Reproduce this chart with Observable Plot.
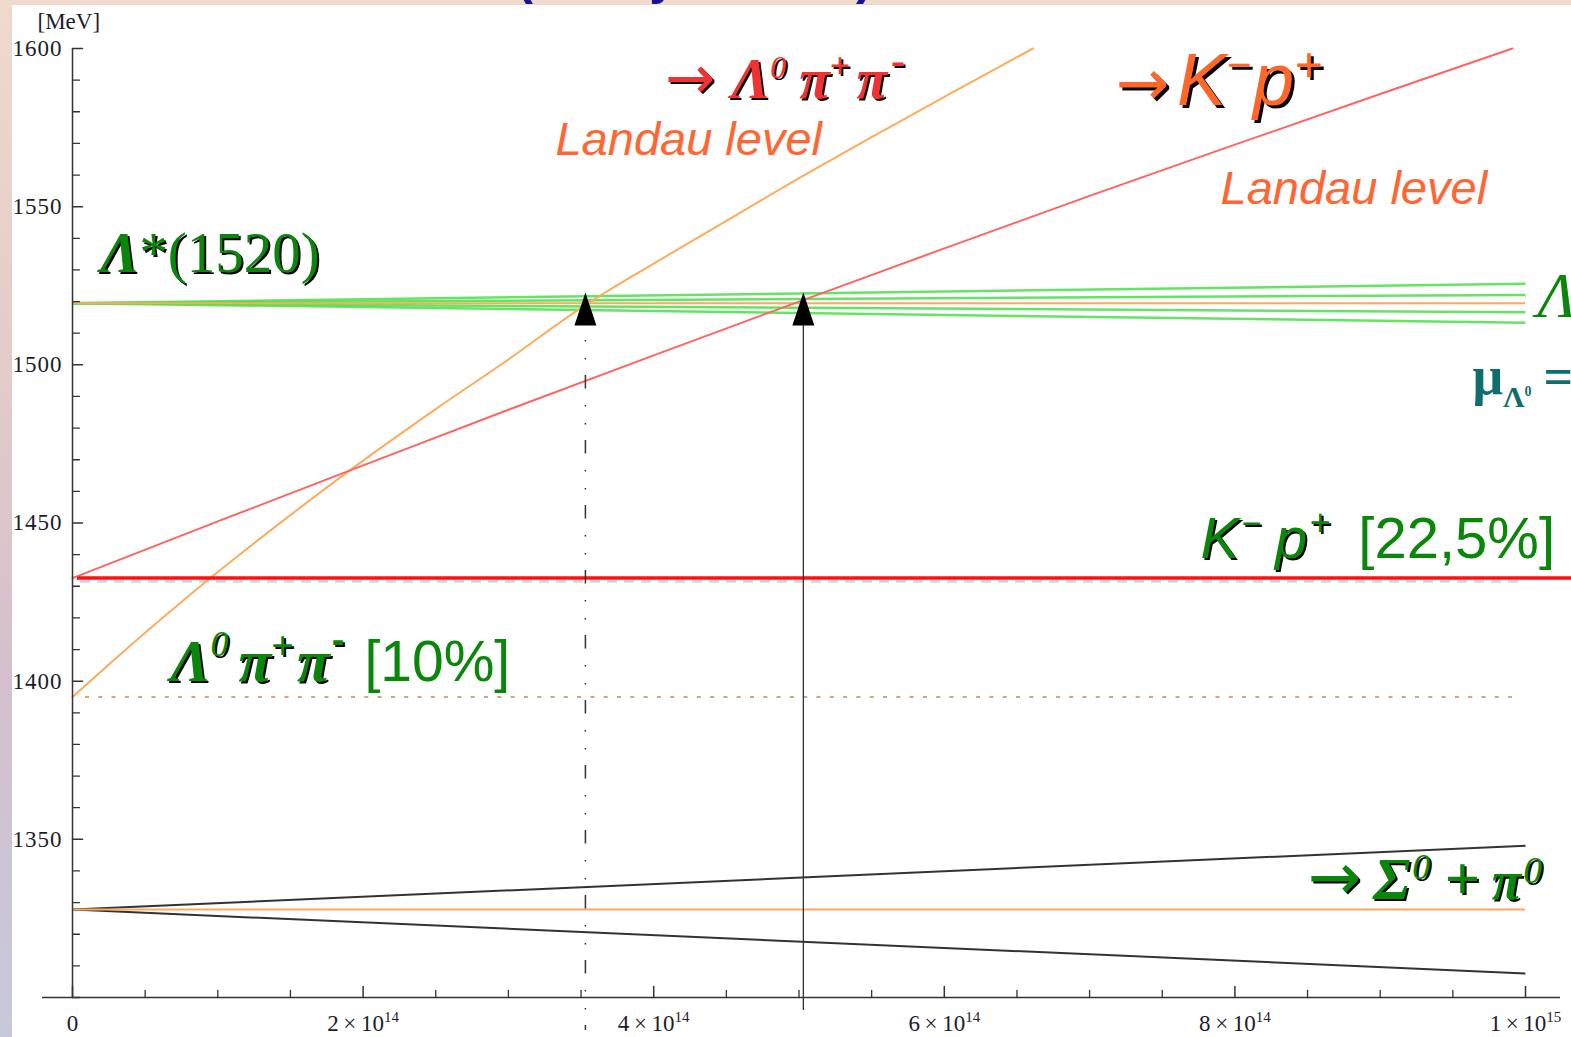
<!DOCTYPE html>
<html>
<head>
<meta charset="utf-8">
<script src="https://cdn.jsdelivr.net/npm/d3@7"></script>
<script src="https://cdn.jsdelivr.net/npm/@observablehq/plot@0.6"></script>
<style>
  html, body { margin: 0; padding: 0; }
  body {
    width: 1571px; height: 1037px; overflow: hidden; position: relative;
    background: linear-gradient(180deg, #efdacd 0%, #e2cccb 35%, #d4c0cc 65%, #c7c9db 100%);
  }
  #chart { position: absolute; left: 12px; top: 5px; background: #fff; }
  #title {
    position: absolute; left: 516px; top: -50px; z-index: 2;
    font: bold 51px "Liberation Sans", Arial, sans-serif; line-height: 1;
    color: #15158c; white-space: nowrap;
  }
</style>
</head>
<body>
<div id="title">(decay in field)</div>
<div id="chart"></div>
<script>
// ---- data (energies in MeV, field in the x unit of the axis) ----
const FIELD_MAX = 1e15;

// Λ*(1520) level and its field-split branches at the right end
const lambdaStarMass = 1519.5;
const lambdaStarBranchesEnd = [1525.6, 1522.1, 1516.6, 1513.3];

// Λ0 π+ π- channel: threshold and lowest Landau level
const lppThreshold = 1395;
const lppField  = [0, 0.5e14, 1e14, 1.5e14, 2e14, 2.5e14, 3e14, 3.5e14, 4e14, 4.5e14, 5e14, 5.5e14, 6e14, 6.61e14];
const lppEnergy = [1395, 1415.3, 1434.5, 1452.5, 1469.7, 1486, 1501.7, 1518, 1532, 1545.5, 1559, 1572, 1584.7, 1600];

// K- p+ channel: threshold and lowest Landau level
const kpThreshold = 1432.6;
const kpField  = [0, 1e14, 2e14, 3e14, 4e14, 5e14, 6e14, 7e14, 8e14, 9e14, 9.91e14];
const kpEnergy = [1432.6, 1450.5, 1468.2, 1485.8, 1503, 1520, 1536.8, 1553.4, 1569.6, 1585.6, 1600];

// Σ0 + π0 channel
const sigmaPiMass = 1327.8;
const sigmaPiBranchesEnd = [1348, 1307.6];

// crossing markers (field where each Landau level meets Λ*)
const crossingField = [3.53e14, 5.03e14];
const crossingStyle = ["dashdot", "solid"];
const markerBase = 1512.4;
const markerLineEnd = [1289.6, 1295.9];

// axis ticks
const xMajorTicks = [0, 2e14, 4e14, 6e14, 8e14, 1e15];
const xMinorTicks = d3.range(0, 21).map(i => i * 0.5e14).filter(v => !xMajorTicks.includes(v));
const yMajorTicks = [1350, 1400, 1450, 1500, 1550, 1600];
const yMinorTicks = d3.range(1300, 1601, 10).filter(v => !yMajorTicks.includes(v));

// ---- fonts and rich labels ----
const SERIF = '"Liberation Serif","Times New Roman",serif';
const SANS = '"Liberation Sans",Arial,sans-serif';
const ARROW = '"DejaVu Sans",sans-serif';
const fonts = {
  serifBoldItalic: {family: SERIF, style: "italic", weight: "bold"},
  serifItalic: {family: SERIF, style: "italic", weight: "normal"},
  serif: {family: SERIF, style: "normal", weight: "normal"},
  serifBold: {family: SERIF, style: "normal", weight: "bold"},
  sansItalic: {family: SANS, style: "italic", weight: "normal"},
  sans: {family: SANS, style: "normal", weight: "normal"},
  sansBold: {family: SANS, style: "normal", weight: "bold"},
  arrow: {family: ARROW, style: "normal", weight: "normal"}
};
const GREEN = "#0a860a";
const ORANGE_TXT = "#ff6633";

const labels = [
  {x: 1.93e13, y: 1529.2, color: GREEN, shadow: 2, segs: [
    {t: "Λ", f: "serifBoldItalic", s: 58},
    {t: "*(1520)", f: "serif", s: 57}]},
  {x: 4.08e14, y: 1584.5, color: "#f03232", shadow: 2, segs: [
    {t: "→", f: "arrow", s: 60},
    {t: "Λ", f: "serifBoldItalic", s: 58, dx: 16},
    {t: "0", f: "serifItalic", s: 32, up: 20},
    {t: "π", f: "serifBoldItalic", s: 56, dx: 13},
    {t: "+", f: "serifBold", s: 36, up: 20},
    {t: "π", f: "serifBoldItalic", s: 56, dx: 6},
    {t: "-", f: "serifBold", s: 42, up: 24, dx: 4}]},
  {x: 3.324e14, y: 1566.2, color: ORANGE_TXT, segs: [
    {t: "Landau level", f: "sansItalic", s: 47}]},
  {x: 7.178e14, y: 1582, color: "#ff6628", shadow: 3, segs: [
    {t: "→", f: "arrow", s: 64},
    {t: "K", f: "sansItalic", s: 74, dx: 8},
    {t: "−", f: "sansItalic", s: 42, up: 26},
    {t: "p", f: "sansItalic", s: 74, dx: 2},
    {t: "+", f: "sansItalic", s: 48, up: 24}]},
  {x: 7.901e14, y: 1550.7, color: ORANGE_TXT, segs: [
    {t: "Landau level ", f: "sansItalic", s: 47}]},
  {x: 1.00826e15, y: 1515, color: GREEN, segs: [
    {t: "Λ", f: "serifItalic", s: 64}]},
  {x: 9.635e14, y: 1490.9, color: "#0e6e6e", segs: [
    {t: "μ", f: "serifBold", s: 54},
    {t: "Λ", f: "serifBold", s: 30, up: -13},
    {t: "0", f: "serifBold", s: 14, up: -2},
    {t: "=", f: "serifBold", s: 52, dx: 12}]},
  {x: 7.763e14, y: 1438.8, color: GREEN, shadow: 2, segs: [
    {t: "K", f: "sansItalic", s: 58},
    {t: "−", f: "sansItalic", s: 34, up: 23, dx: 2},
    {t: "p", f: "sansItalic", s: 58, dx: 14},
    {t: "+", f: "sansItalic", s: 36, up: 23, dx: 2},
    {t: "[22,5%]", f: "sans", s: 58, dx: 28, shadow: false}]},
  {x: 6.74e13, y: 1400.2, color: GREEN, shadow: 2, segs: [
    {t: "Λ", f: "serifBoldItalic", s: 60},
    {t: "0", f: "serifItalic", s: 36, up: 25},
    {t: "π", f: "serifBoldItalic", s: 60, dx: 10},
    {t: "+", f: "serifBold", s: 40, up: 22},
    {t: "π", f: "serifBoldItalic", s: 60, dx: 3},
    {t: "-", f: "sansBold", s: 38, up: 28, dx: 2},
    {t: "[10%]", f: "sans", s: 57, dx: 20, shadow: false}]},
  {x: 8.5e14, y: 1331, color: GREEN, shadow: 2, segs: [
    {t: "→", f: "arrow", s: 64},
    {t: "Σ", f: "serifBoldItalic", s: 60, dx: 12},
    {t: "0", f: "serifItalic", s: 36, up: 20, dx: 2},
    {t: "+", f: "serifBoldItalic", s: 62, dx: 14},
    {t: "π", f: "serifBoldItalic", s: 54, dx: 12},
    {t: "0", f: "serifItalic", s: 38, up: 16, dx: 2}]}
];
const labelKey = d => d.segs.map(s => s.t).join("");

// x tick labels as mantissa × 10^exponent
const formatField = v => {
  if (v === 0) return "0";
  const e = Math.floor(Math.log10(v) + 1e-9);
  const m = Math.round(v / 10 ** e);
  return `${m}\u2009×\u200910^${e}`;
};

// tick shape: a plain line along the vector
const tickShape = {draw(context, l) { context.moveTo(0, 0); context.lineTo(0, -l); }};
const AXIS = "#333";

const fanLines = lambdaStarBranchesEnd.map(end => ({y1: lambdaStarMass, y2: end}));
const sigmaLines = sigmaPiBranchesEnd.map(end => ({y1: sigmaPiMass, y2: end}));
const markers = crossingField.map((x, i) => ({x, style: crossingStyle[i], bottom: markerLineEnd[i]}));

const plot = Plot.plot({
  width: 1559,
  height: 1032,
  marginLeft: 60,
  marginRight: 46,
  marginTop: 43,
  marginBottom: 40,
  x: {domain: [0, FIELD_MAX], label: null},
  y: {domain: [1300, 1600], label: null},
  style: {background: "#fff", maxWidth: "none", fontFamily: SERIF, fontSize: "22px", color: "#1c1c2c"},
  marks: [
    // thresholds
    Plot.ruleY([kpThreshold - 1], {stroke: "#c9d6e3", strokeWidth: 3, strokeDasharray: "10,7", insetLeft: 8}),
    Plot.ruleY([lppThreshold], {stroke: "#c9a98a", strokeWidth: 2, strokeDasharray: "4,9.3", insetLeft: 13, insetRight: 5}),
    // Λ*(1520) fan
    Plot.link(fanLines, {x1: () => 0, x2: () => FIELD_MAX, y1: "y1", y2: "y2", stroke: "#48e048", strokeWidth: 2.5, strokeOpacity: 0.85}),
    Plot.ruleY([lambdaStarMass], {x1: () => 0, x2: () => FIELD_MAX, stroke: "#ffa75a", strokeWidth: 2}),
    // Σ0 π0
    Plot.link(sigmaLines, {x1: () => 0, x2: () => FIELD_MAX, y1: "y1", y2: "y2", stroke: "#333", strokeWidth: 2}),
    Plot.ruleY([sigmaPiMass], {x1: () => 0, x2: () => FIELD_MAX, stroke: "#ffa75a", strokeWidth: 2}),
    // Landau levels
    Plot.line(lppEnergy, {x: lppField, y: lppEnergy, stroke: "#ffab5c", strokeWidth: 2, curve: "monotone-x"}),
    Plot.line(kpEnergy, {x: kpField, y: kpEnergy, stroke: "#ff6464", strokeWidth: 2, curve: "monotone-x"}),
    Plot.ruleY([kpThreshold], {stroke: "#ff1010", strokeWidth: 3.5, insetLeft: 5, insetRight: -46}),
    // crossing markers
    Plot.ruleX(markers.filter(d => d.style === "dashdot"), {x: "x", y1: () => markerBase, y2: "bottom", stroke: "#333", strokeWidth: 1.5,
      strokeDasharray: "13.5,16.5,1.5,16.5,1.5,15.5", strokeDashoffset: 15}),
    Plot.ruleX(markers.filter(d => d.style === "solid"), {x: "x", y1: () => markerBase, y2: "bottom", stroke: "#333", strokeWidth: 1.3}),
    Plot.vector(markers, {x: "x", y: () => markerBase, length: 33, r: 11, shape: "spike", anchor: "start", fill: "#000", stroke: "none"}),
    // axes
    Plot.ruleX([0], {y1: () => 1300, y2: () => 1600, stroke: AXIS, strokeWidth: 1.5}),
    Plot.ruleY([1300], {stroke: AXIS, strokeWidth: 1.5, insetLeft: -30, insetRight: -35}),
    Plot.vector(xMajorTicks, {x: d => d, y: () => 1300, length: 11, shape: tickShape, anchor: "start", stroke: AXIS, strokeWidth: 1.5}),
    Plot.vector(xMinorTicks, {x: d => d, y: () => 1300, length: 7, shape: tickShape, anchor: "start", stroke: AXIS, strokeWidth: 1.3}),
    Plot.vector(yMajorTicks, {x: () => 0, y: d => d, length: 10, rotate: 90, shape: tickShape, anchor: "start", stroke: AXIS, strokeWidth: 1.5}),
    Plot.vector(yMinorTicks, {x: () => 0, y: d => d, length: 7, rotate: 90, shape: tickShape, anchor: "start", stroke: AXIS, strokeWidth: 1.3}),
    Plot.axisX({ticks: xMajorTicks, tickSize: 0, tickPadding: 17, tickFormat: formatField, fontSize: 23}),
    Plot.axisY({ticks: yMajorTicks, tickSize: 0, tickPadding: 10, tickFormat: d => String(d), fontSize: 23}),
    Plot.text(["[MeV]"], {frameAnchor: "top-left", textAnchor: "start", lineAnchor: "bottom", dx: -35, dy: -20, fontSize: 23}),
    // annotations
    Plot.text(labels, {x: "x", y: "y", text: labelKey, textAnchor: "start", lineAnchor: "bottom", fontSize: 40})
  ]
});

// ---- rich text: italics, super/subscripts and drop shadows ----
const NS = "http://www.w3.org/2000/svg";
function writeSegments(el, segs, color, shadowPass) {
  el.textContent = "";
  let raise = 0;
  for (const s of segs) {
    const ts = document.createElementNS(NS, "tspan");
    ts.textContent = s.t;
    const up = s.up || 0;
    if (raise - up) ts.setAttribute("dy", raise - up);
    raise = up;
    if (s.dx) ts.setAttribute("dx", s.dx);
    const f = fonts[s.f];
    ts.setAttribute("font-family", f.family);
    ts.setAttribute("font-style", f.style);
    ts.setAttribute("font-weight", f.weight);
    ts.setAttribute("font-size", s.s);
    if (shadowPass) ts.setAttribute("fill", s.shadow === false ? "none" : "#000");
    else ts.setAttribute("fill", s.fill || color);
    el.appendChild(ts);
  }
}
const byKey = new Map(labels.map(d => [labelKey(d), d]));
d3.select(plot).selectAll("text").each(function () {
  const spec = byKey.get(this.textContent);
  if (spec) {
    if (spec.shadow) {
      const clone = this.cloneNode(false);
      writeSegments(clone, spec.segs, spec.color, true);
      clone.setAttribute("transform", (this.getAttribute("transform") || "") + ` translate(${spec.shadow},${spec.shadow})`);
      this.parentNode.insertBefore(clone, this);
    }
    writeSegments(this, spec.segs, spec.color, false);
    return;
  }
  const m = /^(.*)\^(\d+)$/.exec(this.textContent);
  if (m) {
    writeSegments(this, [
      {t: m[1], f: "serif", s: 23},
      {t: m[2], f: "serif", s: 15, up: 9}
    ], "currentColor", false);
  }
});
d3.select(plot).selectAll('g[aria-label="y-axis tick label"] text').style("letter-spacing", "1px");

document.getElementById("chart").appendChild(plot);
</script>
</body>
</html>
